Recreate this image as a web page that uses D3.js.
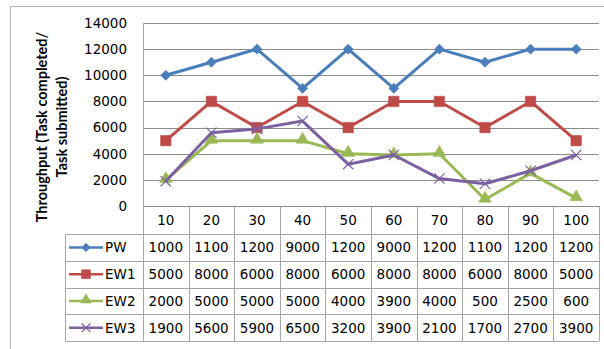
<!DOCTYPE html>
<html>
<head>
<meta charset="utf-8">
<script src="https://cdn.jsdelivr.net/npm/d3@7"></script>
<style>
  html, body { margin: 0; padding: 0; background: #fff; }
  svg { display: block; }
</style>
</head>
<body>
<svg id="chart" width="604" height="349"></svg>
<script>
// Throughput per workload size for four scheduling schemes
const categories = [10, 20, 30, 40, 50, 60, 70, 80, 90, 100];
const seriesNames = ["PW", "EW1", "EW2", "EW3"];
const pw  = [10000, 11000, 12000, 9000, 12000, 9000, 12000, 11000, 12000, 12000];
const ew1 = [5000, 8000, 6000, 8000, 6000, 8000, 8000, 6000, 8000, 5000];
const ew2 = [2000, 5000, 5000, 5000, 4000, 3900, 4000, 500, 2500, 600];
const ew3 = [1900, 5600, 5900, 6500, 3200, 3900, 2100, 1700, 2700, 3900];
const yTicks = [0, 2000, 4000, 6000, 8000, 10000, 12000, 14000];
const yTitle = ["Throughput (Task completed/", "Task submitted)"];

const seriesValues = [pw, ew1, ew2, ew3];
const colors = ["#4a7ebb", "#be4b48", "#98b954", "#7d60a0"];
const markerKinds = ["diamond", "square", "triangle", "times"];

const svg = d3.select("#chart");
const font = "'DejaVu Sans', Verdana, sans-serif";

// frame
const plotL = 143, plotR = 599, plotT = 23, plotB = 206;
const tableRowTop = 234, rowH = 26.8, legendL = 65;

svg.append("rect")
  .attr("x", 10.5).attr("y", 6.5).attr("width", 640).attr("height", 400)
  .attr("fill", "none").attr("stroke", "#b8b8b8").attr("stroke-width", 1);

const x = d3.scaleBand().domain(categories).range([plotL, plotR]).padding(0);
const y = d3.scaleLinear().domain([0, 14000]).range([plotB, plotT]);

// horizontal gridlines
svg.append("g").selectAll("line").data(yTicks.filter(d => d > 0)).join("line")
  .attr("x1", plotL).attr("x2", plotR)
  .attr("y1", d => Math.round(y(d)) + 0.5).attr("y2", d => Math.round(y(d)) + 0.5)
  .attr("stroke", "#8c8c8c").attr("stroke-width", 1);

// y axis labels
const yAxis = d3.axisLeft(y).tickValues(yTicks).tickSize(0).tickPadding(16)
  .tickFormat(d3.format("d"));
const gy = svg.append("g").attr("transform", `translate(${plotL},0)`).call(yAxis);
gy.select(".domain").remove();
gy.selectAll("text").attr("font-family", font).attr("font-size", 13.5).attr("fill", "#000");

// y axis title
const title = svg.append("text")
  .attr("transform", "translate(52,127) rotate(-90)")
  .attr("text-anchor", "middle")
  .attr("font-family", "Lato, 'Liberation Sans', sans-serif")
  .attr("font-weight", "bold").attr("font-size", 14.5).attr("fill", "#000");
title.selectAll("tspan").data(yTitle).join("tspan")
  .attr("x", 0).attr("dy", (d, i) => i === 0 ? "-0.35em" : "1.38em").text(d => d);

// data table grid
const gridColor = "#a6a6a6";
const tableBottom = tableRowTop + rowH * seriesNames.length;
const table = svg.append("g");
// vertical lines at category boundaries
const bounds = categories.map(c => x(c)).concat([plotR]);
table.selectAll("line.v").data(bounds).join("line").attr("class", "v")
  .attr("x1", d => Math.round(d) + 0.5).attr("x2", d => Math.round(d) + 0.5)
  .attr("y1", (d, i) => i === 0 ? plotT : plotB).attr("y2", tableBottom)
  .attr("stroke", gridColor);
// legend column left edge
table.append("line")
  .attr("x1", legendL + 0.5).attr("x2", legendL + 0.5)
  .attr("y1", tableRowTop).attr("y2", tableBottom).attr("stroke", gridColor);
// horizontal lines
const rowLines = d3.range(seriesNames.length + 1).map(i => tableRowTop + i * rowH);
table.selectAll("line.h").data(rowLines).join("line").attr("class", "h")
  .attr("x1", legendL).attr("x2", plotR)
  .attr("y1", d => Math.round(d) + 0.5).attr("y2", d => Math.round(d) + 0.5)
  .attr("stroke", gridColor);
// x axis line
svg.append("line").attr("x1", plotL).attr("x2", plotR)
  .attr("y1", plotB + 0.5).attr("y2", plotB + 0.5).attr("stroke", "#8c8c8c");

// category header row
table.selectAll("text.cat").data(categories).join("text").attr("class", "cat")
  .attr("x", d => x(d) + x.bandwidth() / 2).attr("y", (plotB + tableRowTop) / 2 + 5)
  .attr("text-anchor", "middle").attr("font-family", font).attr("font-size", 13.5)
  .attr("fill", "#000").text(d => d);

// the value cells are four characters wide; longer numbers are cut off
const cellText = v => String(v).slice(0, 4);

seriesValues.forEach((vals, si) => {
  const cy = tableRowTop + rowH * si + rowH / 2 + 5;
  table.append("g").selectAll("text").data(vals).join("text")
    .attr("x", (d, i) => x(categories[i]) + x.bandwidth() / 2).attr("y", cy)
    .attr("text-anchor", "middle").attr("font-family", font).attr("font-size", 13.5)
    .attr("fill", "#000").text(d => cellText(d));
});

// marker shapes
function marker(sel, kind, color, scale) {
  if (kind === "diamond") {
    sel.append("path").attr("d", d3.symbol(d3.symbolSquare, 52 * scale * scale)())
      .attr("transform", "rotate(45)")
      .attr("fill", color).attr("stroke", color).attr("stroke-width", 0.5);
  } else if (kind === "square") {
    sel.append("path").attr("d", d3.symbol(d3.symbolSquare, 110 * scale * scale)())
      .attr("fill", color).attr("stroke", color).attr("stroke-width", 0.5);
  } else if (kind === "triangle") {
    sel.append("path").attr("d", d3.symbol(d3.symbolTriangle, 70 * scale * scale)())
      .attr("transform", "translate(0,-1)")
      .attr("fill", color).attr("stroke", color).attr("stroke-width", 0.5);
  } else {
    sel.append("path").attr("d", d3.symbol(d3.symbolTimes, 70 * scale * scale)())
      .attr("fill", "none").attr("stroke", color).attr("stroke-width", 1.2);
  }
}

// series lines and markers
const line = d3.line().x((d, i) => x(categories[i]) + x.bandwidth() / 2).y(d => y(d));
seriesValues.forEach((vals, si) => {
  const g = svg.append("g");
  g.append("path").datum(vals).attr("d", line)
    .attr("fill", "none").attr("stroke", colors[si]).attr("stroke-width", 3)
    .attr("stroke-linejoin", "round");
  vals.forEach((v, i) => {
    const m = g.append("g")
      .attr("transform", `translate(${x(categories[i]) + x.bandwidth() / 2},${y(v)})`);
    marker(m, markerKinds[si], colors[si], 1);
  });
});

// legend keys in the row header cells
seriesNames.forEach((name, si) => {
  const cy = tableRowTop + rowH * si + rowH / 2;
  const g = svg.append("g");
  g.append("line").attr("x1", 69).attr("x2", 103).attr("y1", cy).attr("y2", cy)
    .attr("stroke", colors[si]).attr("stroke-width", 2.5);
  const m = g.append("g").attr("transform", `translate(86,${cy})`);
  marker(m, markerKinds[si], colors[si], 0.85);
  g.append("text").attr("x", 105).attr("y", cy + 5)
    .attr("font-family", font).attr("font-size", 13.5).attr("fill", "#000").text(name);
});
</script>
</body>
</html>
